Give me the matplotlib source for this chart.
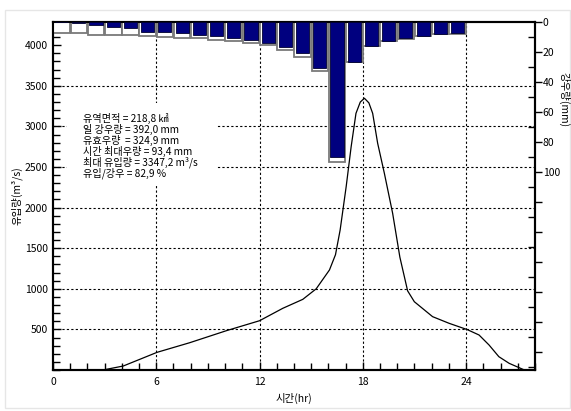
import numpy as np
import matplotlib.pyplot as plt
from matplotlib.patches import Rectangle
from matplotlib.ticker import MultipleLocator, FixedLocator

plt.rcParams['font.family'] = ['Noto Sans CJK KR', 'DejaVu Sans']

# hourly rainfall (mm): total and effective
hours = np.arange(24) + 0.5
rain_total = [7.6, 7.6, 8.7, 8.7, 8.7, 9.3, 9.8, 10.4, 10.9, 12.0, 12.9, 14.2,
              15.3, 18.7, 23.1, 32.7, 93.4, 26.8, 16.3, 12.6, 11.1, 9.5, 8.2, 7.8]
rain_eff = [0.0, 0.4, 2.0, 3.1, 4.2, 6.4, 6.4, 7.6, 8.7, 9.1, 10.9, 12.0,
            14.2, 17.0, 20.9, 30.9, 89.8, 26.4, 16.0, 12.4, 10.9, 9.3, 8.0, 7.6]

# inflow hydrograph (hr, m3/s)
t_q = [2.9, 4.08, 6.05, 7.94, 10.07, 12.0, 13.35, 14.51, 15.29, 16.06, 16.41,
       16.68, 17.03, 17.32, 17.6, 17.85, 18.09, 18.35, 18.57, 18.86, 19.25,
       19.73, 20.15, 20.6, 20.99, 22.05, 23.01, 24.07, 24.75, 25.33, 25.9,
       26.5, 27.3]
q = [0, 49, 218, 336, 484, 607, 760, 870, 1000, 1232, 1420,
     1724, 2257, 2750, 3161, 3300, 3347, 3290, 3161, 2792, 2422,
     1930, 1390, 975, 841, 657, 575, 497, 431, 308, 164,
     82, 8]

info = ['유역면적 = 218,8 ㎢', '일 강우량 = 392,0 mm', '유효우량  = 324,9 mm',
        '시간 최대우량 = 93,4 mm', '최대 유입량 = 3347,2 m³/s', '유입/강우 = 82,9 %']

fig = plt.figure(figsize=(5.71, 4.11), dpi=100)
fig.patches.append(Rectangle((5 / 571, 3 / 411), 565 / 571, 398 / 411, transform=fig.transFigure,
                             fill=False, edgecolor='#e6e6e6', lw=1))
ax = fig.add_axes([53 / 571, 41 / 411, 482 / 571, 348 / 411])
ax.set_xlim(0, 28)
ax.set_ylim(0, 4286)

# grid
for xv in [6, 12, 18, 24]:
    ax.axvline(xv, color='k', lw=0.8, ls=(0, (2, 2)), zorder=1)
for yv in [500, 1000, 1500, 2000, 2500, 3000, 3500]:
    ax.axhline(yv, color='k', lw=0.8, ls=(0, (2, 2)), zorder=1)

ax.plot(t_q, q, color='k', lw=0.9, zorder=3)

ax.xaxis.set_major_locator(MultipleLocator(6))
ax.xaxis.set_minor_locator(MultipleLocator(1))
ax.yaxis.set_major_locator(FixedLocator([500, 1000, 1500, 2000, 2500, 3000, 3500, 4000]))
ax.yaxis.set_minor_locator(MultipleLocator(100))
ax.tick_params(axis='both', which='both', direction='in', labelsize=7.5, width=1)
ax.tick_params(axis='both', which='major', length=6)
ax.tick_params(axis='both', which='minor', length=5)
ax.tick_params(axis='x', pad=5)
for s in ax.spines.values():
    s.set_linewidth(1.5)

ax.set_xlabel('시간(hr)', fontsize=7.5, labelpad=4)
ax.set_ylabel('유입량(m³/s)', fontsize=7.5, labelpad=2)

# info box
ax.add_patch(Rectangle((14 / 482, (370 - 185) / 348), 150 / 482, 82 / 348,
                       transform=ax.transAxes, facecolor='white', edgecolor='none', zorder=2))
for i, line in enumerate(info):
    ax.text(30 / 482, (370 - 118 - i * 11) / 348, line, transform=ax.transAxes,
            fontsize=7.3, va='center', ha='left', zorder=4)

# rainfall on inverted right axis
ax2 = ax.twinx()
ax2.set_ylim(232, 0)
ax2.bar(hours, rain_total, width=0.96, color='white', edgecolor='#7a7a7a', lw=1.3, zorder=2)
ax2.bar(hours, rain_eff, width=0.76, color='#00007f', edgecolor='#000030', lw=0.6, zorder=3)
ax2.yaxis.set_major_locator(MultipleLocator(20))
ax2.yaxis.set_minor_locator(MultipleLocator(10))
ax2.yaxis.set_major_formatter(plt.FuncFormatter(lambda v, p: '%d' % v if v <= 100 else ''))
ax2.tick_params(axis='y', which='major', direction='out', length=5, width=1, labelsize=7.5, pad=0.5)
ax2.tick_params(axis='y', which='minor', direction='in', length=5, width=1)
for s in ax2.spines.values():
    s.set_linewidth(1.5)

fig.text(564 / 571, 1 - 100 / 411, '강우량(mm)', rotation=-90, fontsize=7.5,
         ha='center', va='center')

fig.savefig('out.png', dpi=100)
